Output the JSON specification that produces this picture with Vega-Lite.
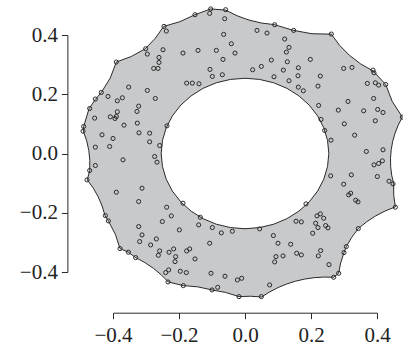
{
  "$schema": "https://vega.github.io/schema/vega-lite/v6.json",
  "autosize": "none",
  "width": 264,
  "height": 237,
  "padding": {"left": 113, "top": 35, "right": 26, "bottom": 74},
  "background": "white",
  "config": {"view": {"stroke": null}, "font": "Liberation Serif", "axis": {"labelFont": "Liberation Serif"}},
  "datasets": {
    "outer": [
      {"i":1,"x":-0.104,"y":0.488},{"i":2,"x":-0.0586,"y":0.484},
      {"i":3,"x":-0.024,"y":0.4649},{"i":4,"x":0.0122,"y":0.4504},{"i":5,"x":0.0497,"y":0.4405},
      {"i":6,"x":0.0889,"y":0.435},{"i":7,"x":0.1455,"y":0.416},{"i":8,"x":0.203,"y":0.4042},
      {"i":9,"x":0.2616,"y":0.403},{"i":10,"x":0.2867,"y":0.365},{"i":11,"x":0.3164,"y":0.3315},{"i":12,"x":0.3504,"y":0.3025},
      {"i":13,"x":0.3889,"y":0.278},{"i":14,"x":0.4263,"y":0.233},{"i":15,"x":0.4463,"y":0.1756},
      {"i":16,"x":0.4768,"y":0.123},{"i":17,"x":0.4643,"y":0.0959},{"i":18,"x":0.4546,"y":0.0685},{"i":19,"x":0.4475,"y":0.0407},
      {"i":20,"x":0.443,"y":0.0127},{"i":21,"x":0.441,"y":-0.0157},{"i":22,"x":0.4414,"y":-0.0443},{"i":23,"x":0.4446,"y":-0.0732},
      {"i":24,"x":0.4505,"y":-0.1025},{"i":25,"x":0.4507,"y":-0.1415},{"i":26,"x":0.4556,"y":-0.1802},
      {"i":27,"x":0.4246,"y":-0.194},{"i":28,"x":0.3956,"y":-0.2109},{"i":29,"x":0.3685,"y":-0.2306},
      {"i":30,"x":0.3434,"y":-0.2534},{"i":31,"x":0.3236,"y":-0.2828},{"i":32,"x":0.3071,"y":-0.3142},
      {"i":33,"x":0.3,"y":-0.3345},{"i":34,"x":0.29,"y":-0.369},{"i":35,"x":0.2838,"y":-0.4043},
      {"i":36,"x":0.2687,"y":-0.4178},{"i":37,"x":0.2387,"y":-0.4171},{"i":38,"x":0.2095,"y":-0.4192},{"i":39,"x":0.1811,"y":-0.4238},
      {"i":40,"x":0.1535,"y":-0.4309},{"i":41,"x":0.1266,"y":-0.4404},{"i":42,"x":0.1004,"y":-0.4524},{"i":43,"x":0.0751,"y":-0.4669},
      {"i":44,"x":0.0505,"y":-0.4842},{"i":45,"x":0.0162,"y":-0.4818},{"i":46,"x":-0.0182,"y":-0.4831},
      {"i":47,"x":-0.0584,"y":-0.4691},{"i":48,"x":-0.1,"y":-0.4606},{"i":49,"x":-0.1429,"y":-0.4502},
      {"i":50,"x":-0.1869,"y":-0.4459},{"i":51,"x":-0.2323,"y":-0.4336},
      {"i":52,"x":-0.2539,"y":-0.4093},{"i":53,"x":-0.2776,"y":-0.3875},{"i":54,"x":-0.3034,"y":-0.3682},
      {"i":55,"x":-0.3313,"y":-0.3514},{"i":56,"x":-0.3535,"y":-0.3333},{"i":57,"x":-0.3788,"y":-0.3209},
      {"i":58,"x":-0.3928,"y":-0.2728},{"i":59,"x":-0.4141,"y":-0.2275},{"i":60,"x":-0.4242,"y":-0.2095},
      {"i":61,"x":-0.4329,"y":-0.1773},{"i":62,"x":-0.4447,"y":-0.1465},{"i":63,"x":-0.4597,"y":-0.117},
      {"i":64,"x":-0.4778,"y":-0.089},{"i":65,"x":-0.4707,"y":-0.0574},
      {"i":66,"x":-0.4702,"y":-0.0234},{"i":67,"x":-0.4733,"y":0.0101},{"i":68,"x":-0.4798,"y":0.043},
      {"i":69,"x":-0.4899,"y":0.0755},{"i":70,"x":-0.4889,"y":0.0912},{"i":71,"x":-0.4727,"y":0.1509},
      {"i":72,"x":-0.4535,"y":0.1824},{"i":73,"x":-0.4354,"y":0.2061},{"i":74,"x":-0.4081,"y":0.2553},
      {"i":75,"x":-0.3899,"y":0.3086},{"i":76,"x":-0.3442,"y":0.3277},{"i":77,"x":-0.302,"y":0.3536},
      {"i":78,"x":-0.2715,"y":0.3893},{"i":79,"x":-0.2465,"y":0.429},{"i":80,"x":-0.1974,"y":0.4449},
      {"i":81,"x":-0.1515,"y":0.4685}
    ],
    "inner": [
      {"i":0,"x":0.254,"y":0},{"i":1,"x":0.2501,"y":0.0441},{"i":2,"x":0.2387,"y":0.0869},{"i":3,"x":0.22,"y":0.127},
      {"i":4,"x":0.1946,"y":0.1633},{"i":5,"x":0.1633,"y":0.1946},{"i":6,"x":0.127,"y":0.22},{"i":7,"x":0.0869,"y":0.2387},
      {"i":8,"x":0.0441,"y":0.2501},{"i":9,"x":0,"y":0.254},{"i":10,"x":-0.0441,"y":0.2501},{"i":11,"x":-0.0869,"y":0.2387},
      {"i":12,"x":-0.127,"y":0.22},{"i":13,"x":-0.1633,"y":0.1946},{"i":14,"x":-0.1946,"y":0.1633},{"i":15,"x":-0.22,"y":0.127},
      {"i":16,"x":-0.2387,"y":0.0869},{"i":17,"x":-0.2501,"y":0.0441},{"i":18,"x":-0.254,"y":0},{"i":19,"x":-0.2501,"y":-0.0441},
      {"i":20,"x":-0.2387,"y":-0.0869},{"i":21,"x":-0.22,"y":-0.127},{"i":22,"x":-0.1946,"y":-0.1633},{"i":23,"x":-0.1633,"y":-0.1946},
      {"i":24,"x":-0.127,"y":-0.22},{"i":25,"x":-0.0869,"y":-0.2387},{"i":26,"x":-0.0441,"y":-0.2501},{"i":27,"x":0,"y":-0.254},
      {"i":28,"x":0.0441,"y":-0.2501},{"i":29,"x":0.0869,"y":-0.2387},{"i":30,"x":0.127,"y":-0.22},{"i":31,"x":0.1633,"y":-0.1946},
      {"i":32,"x":0.1946,"y":-0.1633},{"i":33,"x":0.22,"y":-0.127},{"i":34,"x":0.2387,"y":-0.0869},{"i":35,"x":0.2501,"y":-0.0441}
    ],
    "pts": [
      {"x":-0.104,"y":0.488},{"x":-0.0586,"y":0.4854},{"x":-0.1071,"y":0.473},{"x":-0.1515,"y":0.4685},{"x":-0.0616,"y":0.455},
      {"x":-0.2455,"y":0.4291},{"x":-0.2384,"y":0.4133},{"x":0.0899,"y":0.4347},{"x":0.0364,"y":0.4155},{"x":0.0667,"y":0.4065},
      {"x":0.1475,"y":0.4155},{"x":-0.0646,"y":0.402},{"x":0.2616,"y":0.4032},{"x":0.1202,"y":0.3863},{"x":-0.0414,"y":0.3705},
      {"x":0.1333,"y":0.3581},{"x":0.1253,"y":0.3423},{"x":-0.301,"y":0.3536},{"x":-0.296,"y":0.3356},{"x":-0.2485,"y":0.3502},
      {"x":-0.1424,"y":0.348},{"x":-0.0869,"y":0.348},{"x":-0.1879,"y":0.339},{"x":-0.0303,"y":0.339},{"x":-0.0667,"y":0.3176},
      {"x":-0.2606,"y":0.3243},{"x":-0.2606,"y":0.3074},{"x":0.198,"y":0.3176},{"x":0.0798,"y":0.3153},{"x":0.1283,"y":0.3097},
      {"x":-0.3899,"y":0.3086},{"x":0.0495,"y":0.2939},{"x":-0.2768,"y":0.2872},{"x":-0.2636,"y":0.2872},{"x":0.299,"y":0.2872},
      {"x":0.3242,"y":0.2905},{"x":-0.1061,"y":0.2838},{"x":0.0232,"y":0.2827},{"x":0.1162,"y":0.2815},{"x":0.1616,"y":0.2894},
      {"x":0.3879,"y":0.2815},{"x":0.3909,"y":0.2725},{"x":-0.099,"y":0.2601},{"x":-0.0687,"y":0.2658},{"x":0.0879,"y":0.259},
      {"x":0.1606,"y":0.2624},{"x":0.2283,"y":0.2613},{"x":0.1333,"y":0.2455},{"x":-0.1768,"y":0.2376},{"x":-0.1596,"y":0.2376},
      {"x":-0.1394,"y":0.2354},{"x":0.3707,"y":0.2365},{"x":0.3949,"y":0.2387},{"x":0.4051,"y":0.2309},{"x":0.4263,"y":0.2331},
      {"x":0.2212,"y":0.2275},{"x":0.1616,"y":0.2241},{"x":0.1768,"y":0.2117},{"x":-0.3525,"y":0.2241},{"x":-0.296,"y":0.2128},
      {"x":-0.4354,"y":0.2061},{"x":-0.4152,"y":0.1926},{"x":-0.2717,"y":0.1858},{"x":0.3899,"y":0.1858},{"x":0.3121,"y":0.1757},
      {"x":-0.4535,"y":0.1836},{"x":-0.3717,"y":0.1881},{"x":-0.3869,"y":0.1779},{"x":-0.3222,"y":0.1599},{"x":-0.3273,"y":0.1419},
      {"x":0.2232,"y":0.1622},{"x":-0.4707,"y":0.152},{"x":0.2828,"y":0.1464},{"x":0.3596,"y":0.1441},{"x":0.402,"y":0.1486},
      {"x":0.4182,"y":0.1385},{"x":-0.3869,"y":0.1408},{"x":-0.3899,"y":0.125},{"x":-0.4081,"y":0.1239},{"x":-0.3939,"y":0.1182},
      {"x":-0.4556,"y":0.1194},{"x":0.3949,"y":0.1104},{"x":0.2303,"y":0.1149},{"x":-0.3667,"y":0.0957},{"x":-0.3263,"y":0.1025},
      {"x":0.301,"y":0.1002},{"x":-0.2364,"y":0.0935},{"x":-0.4889,"y":0.0912},{"x":-0.4909,"y":0.0755},{"x":0.4768,"y":0.1227},
      {"x":0.2414,"y":0.0777},{"x":-0.3212,"y":0.0698},{"x":-0.2889,"y":0.0687},{"x":-0.4333,"y":0.0631},{"x":-0.4,"y":0.0507},
      {"x":0.3323,"y":0.0619},{"x":-0.2889,"y":0.0394},{"x":0.2606,"y":0.045},{"x":-0.4535,"y":0.0214},{"x":-0.4101,"y":0.0236},
      {"x":-0.2586,"y":0.027},{"x":0.3677,"y":0.0068},{"x":0.4182,"y":0.0124},{"x":-0.2737,"y":-0.0101},{"x":-0.2667,"y":-0.0293},
      {"x":-0.3697,"y":-0.0214},{"x":0.3909,"y":-0.0383},{"x":0.4051,"y":-0.0338},{"x":0.4162,"y":-0.0248},{"x":-0.4535,"y":-0.0405},
      {"x":-0.4707,"y":-0.0574},{"x":0.2596,"y":-0.0755},{"x":0.3222,"y":-0.0721},{"x":0.401,"y":-0.0777},{"x":-0.4788,"y":-0.089},
      {"x":0.299,"y":-0.1036},{"x":0.4364,"y":-0.0935},{"x":0.4485,"y":-0.1025},{"x":-0.3121,"y":-0.1171},{"x":0.3202,"y":-0.134},
      {"x":0.3141,"y":-0.1396},{"x":-0.3899,"y":-0.1306},{"x":0.3354,"y":-0.1577},{"x":0.3424,"y":-0.1633},{"x":-0.3222,"y":-0.1622},
      {"x":-0.1879,"y":-0.1678},{"x":0.1848,"y":-0.17},{"x":0.4556,"y":-0.1813},{"x":-0.2374,"y":-0.1813},{"x":-0.4232,"y":-0.2095},
      {"x":-0.4141,"y":-0.2275},{"x":0.2283,"y":-0.2038},{"x":0.2182,"y":-0.2106},{"x":0.2384,"y":-0.2185},{"x":-0.2232,"y":-0.2106},
      {"x":-0.1354,"y":-0.2151},{"x":0.2141,"y":-0.2354},{"x":0.2212,"y":-0.25},{"x":0.2444,"y":-0.2432},{"x":0.2515,"y":-0.2511},
      {"x":-0.2505,"y":-0.2297},{"x":0.1545,"y":-0.2286},{"x":0.1707,"y":-0.2309},{"x":-0.3222,"y":-0.2466},{"x":-0.099,"y":-0.25},
      {"x":-0.199,"y":-0.2579},{"x":-0.1404,"y":-0.241},{"x":-0.0384,"y":-0.2624},{"x":-0.0717,"y":-0.268},{"x":0.0444,"y":-0.2545},
      {"x":0.3434,"y":-0.2534},{"x":0.2051,"y":-0.2691},{"x":-0.3121,"y":-0.2748},{"x":0.0859,"y":-0.277},{"x":-0.2687,"y":-0.2883},
      {"x":-0.3192,"y":-0.2973},{"x":-0.1071,"y":-0.3029},{"x":0.1,"y":-0.3029},{"x":0.1384,"y":-0.3063},{"x":-0.2859,"y":-0.3086},
      {"x":0.3071,"y":-0.3142},{"x":-0.2162,"y":-0.3221},{"x":-0.1677,"y":-0.3221},{"x":-0.2586,"y":-0.3288},{"x":-0.2626,"y":-0.3435},
      {"x":-0.2303,"y":-0.3333},{"x":-0.1768,"y":-0.3288},{"x":-0.3788,"y":-0.3209},{"x":-0.3535,"y":-0.3333},{"x":0.2293,"y":-0.3277},
      {"x":0.2222,"y":-0.3457},{"x":0.3,"y":-0.3345},{"x":-0.2101,"y":-0.348},{"x":-0.2121,"y":-0.3649},{"x":-0.1515,"y":-0.3559},
      {"x":0.1566,"y":-0.3367},{"x":0.1707,"y":-0.3423},{"x":0.0939,"y":-0.348},{"x":0.0899,"y":-0.366},{"x":0.1152,"y":-0.3457},
      {"x":-0.3313,"y":-0.3514},{"x":0.2545,"y":-0.375},{"x":-0.2313,"y":-0.393},{"x":-0.2404,"y":-0.402},{"x":-0.196,"y":-0.3975},
      {"x":-0.1778,"y":-0.402},{"x":-0.103,"y":-0.4043},{"x":-0.0606,"y":-0.4144},{"x":-0.0232,"y":-0.4268},{"x":-0.0101,"y":-0.4212},
      {"x":0.2838,"y":-0.4043},{"x":0.2687,"y":-0.4178},{"x":-0.2333,"y":-0.4336},{"x":-0.1869,"y":-0.4459},{"x":-0.0828,"y":-0.4516},
      {"x":-0.1,"y":-0.4606},{"x":0.0747,"y":-0.4437},{"x":0.0495,"y":-0.4831},{"x":-0.0182,"y":-0.4831}
    ]
  },
  "encoding": {
    "x": {"field": "x", "type": "quantitative",
      "scale": {"domain": [-0.4, 0.4], "nice": false, "zero": false},
      "axis": {"title": null, "grid": false, "offset": 40.7, "values": [-0.4, -0.2, 0, 0.2, 0.4], "format": ".1f",
        "domainColor": "#2a2a2a", "tickColor": "#2a2a2a", "tickSize": 6, "labelFont": "Liberation Serif", "labelFontSize": 21,
        "labelColor": "#222222", "labelPadding": 6, "labelFlush": false, "labelOverlap": false}},
    "y": {"field": "y", "type": "quantitative",
      "scale": {"domain": [-0.4, 0.4], "nice": false, "zero": false},
      "axis": {"title": null, "grid": false, "offset": 45.6, "values": [-0.4, -0.2, 0, 0.2, 0.4], "format": ".1f",
        "domainColor": "#2a2a2a", "tickColor": "#2a2a2a", "tickSize": 6, "labelFont": "Liberation Serif", "labelFontSize": 21,
        "labelColor": "#222222", "labelPadding": 4, "labelFlush": false, "labelOverlap": false}}
  },
  "layer": [
    {"data": {"name": "outer"},
     "mark": {"type": "line", "interpolate": "linear-closed", "fill": "#c8c9cb", "stroke": "#2a2a2a", "strokeWidth": 1},
     "encoding": {"order": {"field": "i", "type": "quantitative"}}},
    {"data": {"name": "inner"},
     "mark": {"type": "line", "interpolate": "linear-closed", "fill": "white", "stroke": "#2a2a2a", "strokeWidth": 1},
     "encoding": {"order": {"field": "i", "type": "quantitative"}}},
    {"data": {"name": "pts"},
     "mark": {"type": "point", "shape": "circle", "filled": false, "stroke": "#2a2a2a", "strokeWidth": 1, "size": 17, "opacity": 1}}
  ]
}
